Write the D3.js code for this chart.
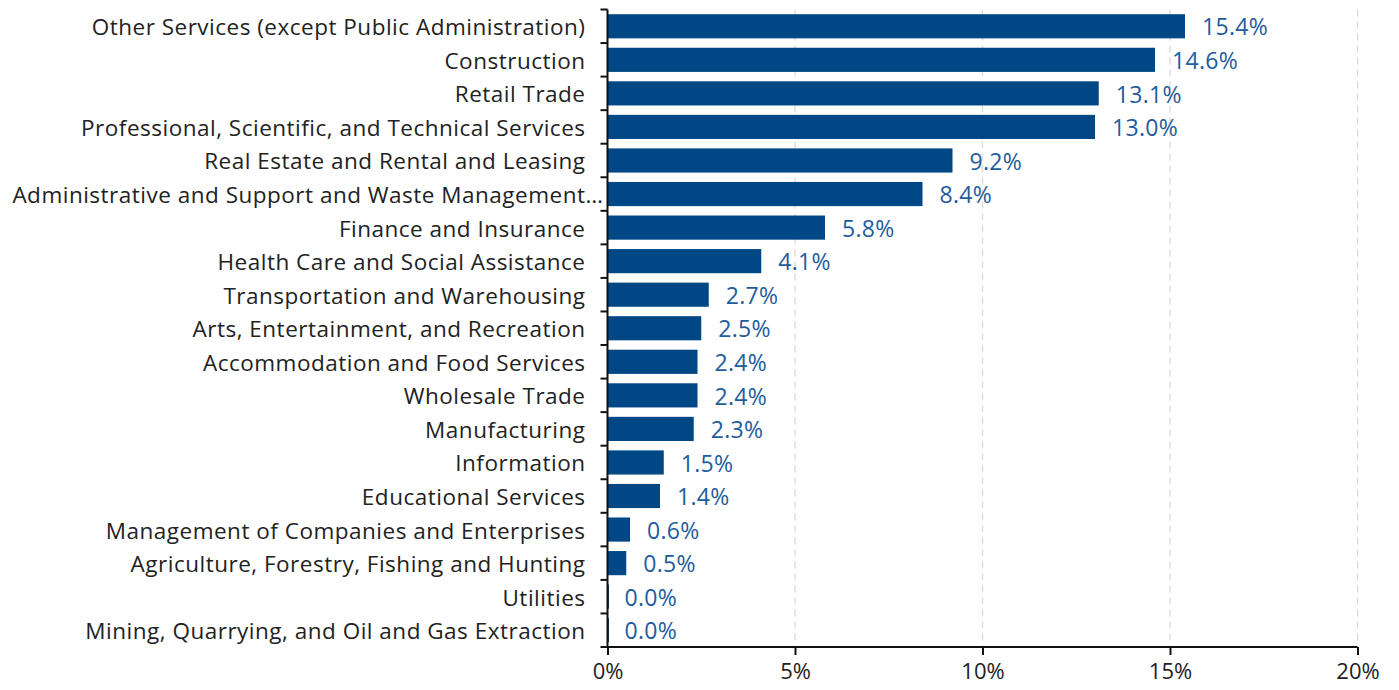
<!DOCTYPE html>
<html><head><meta charset="utf-8">
<script src="https://cdn.jsdelivr.net/npm/d3@7"></script>
<style>
body{margin:0;background:#fff;}
text{font-family:"Open Sans",sans-serif;}
</style></head>
<body><svg id="c" width="1399" height="690"></svg>
<script>
const categories = [
 "Other Services (except Public Administration)",
 "Construction",
 "Retail Trade",
 "Professional, Scientific, and Technical Services",
 "Real Estate and Rental and Leasing",
 "Administrative and Support and Waste Management\u2026",
 "Finance and Insurance",
 "Health Care and Social Assistance",
 "Transportation and Warehousing",
 "Arts, Entertainment, and Recreation",
 "Accommodation and Food Services",
 "Wholesale Trade",
 "Manufacturing",
 "Information",
 "Educational Services",
 "Management of Companies and Enterprises",
 "Agriculture, Forestry, Fishing and Hunting",
 "Utilities",
 "Mining, Quarrying, and Oil and Gas Extraction"
];
const values = [15.4,14.6,13.1,13.0,9.2,8.4,5.8,4.1,2.7,2.5,2.4,2.4,2.3,1.5,1.4,0.6,0.5,0.0,0.0];
const xTicks = [0,5,10,15,20];

const svg = d3.select("#c");
const m = {left:607.5, right:1357.5, top:9.5, bottom:647};
const x = d3.scaleLinear().domain([0,20]).range([m.left, m.right]);
const y = d3.scaleBand().domain(categories).range([m.top, m.bottom]).paddingInner(0.28).paddingOuter(0.14);

// grid
svg.append("g").selectAll("line").data(xTicks.slice(1)).join("line")
  .attr("x1", d=>x(d)).attr("x2", d=>x(d)).attr("y1", m.top).attr("y2", m.bottom)
  .attr("stroke","#d9d9d9").attr("stroke-width",1.3).attr("stroke-dasharray","7,5");

// bars
svg.append("g").selectAll("rect").data(values).join("rect")
  .attr("x", x(0)).attr("y", (d,i)=>y(categories[i]))
  .attr("width", d=>Math.max(x(d)-x(0), 1.5)).attr("height", y.bandwidth())
  .attr("fill","#004785");

// value labels
svg.append("g").selectAll("text").data(values).join("text")
  .attr("x", d=>x(d)+17).attr("y", (d,i)=>y(categories[i])+y.bandwidth()/2)
  .attr("dy","0.4em").attr("fill","#1e5c9d").attr("font-size",23)
  .attr("letter-spacing",0.3)
  .text(d=>d.toFixed(1)+"%");

// y axis
const yAxis = d3.axisLeft(y).tickSize(7).tickPadding(15);
const yg = svg.append("g").attr("transform",`translate(${m.left},0)`).call(yAxis);
yg.selectAll(".tick line").remove();
yg.select(".domain").remove();
yg.selectAll("text").attr("font-size",22.5).attr("fill","#222").attr("font-family","'Open Sans', sans-serif")
  .attr("letter-spacing",0.5).attr("dy","0.4em")
  .each(function(d){
    if (d.endsWith("\u2026")) {
      const t = d3.select(this);
      t.text(d.slice(0,-1));
      t.append("tspan").text("\u2026");
      const tsp = this.lastChild.getComputedTextLength();
      t.attr("x", -22 + tsp);
    }
  });
// boundary ticks
const bounds = d3.range(categories.length+1).map(i=>m.top + i*(m.bottom-m.top)/categories.length);
svg.append("g").selectAll("line").data(bounds).join("line")
  .attr("x1", m.left-7).attr("x2", m.left).attr("y1", d=>d).attr("y2", d=>d)
  .attr("stroke","#111").attr("stroke-width",2);
svg.append("line").attr("x1",m.left).attr("x2",m.left).attr("y1",m.top).attr("y2",m.bottom)
  .attr("stroke","#111").attr("stroke-width",2);

// x axis
const xAxis = d3.axisBottom(x).tickValues(xTicks).tickFormat(d=>d+"%").tickSize(8).tickPadding(8);
const xg = svg.append("g").attr("transform",`translate(0,${m.bottom})`).call(xAxis);
xg.select(".domain").attr("stroke","#111").attr("stroke-width",2).attr("d",`M${m.left},0H${m.right}`);
xg.selectAll(".tick line").attr("stroke","#111").attr("stroke-width",2);
xg.selectAll("text").attr("font-size",22).attr("fill","#222").attr("font-family","'Open Sans', sans-serif");
</script></body></html>
